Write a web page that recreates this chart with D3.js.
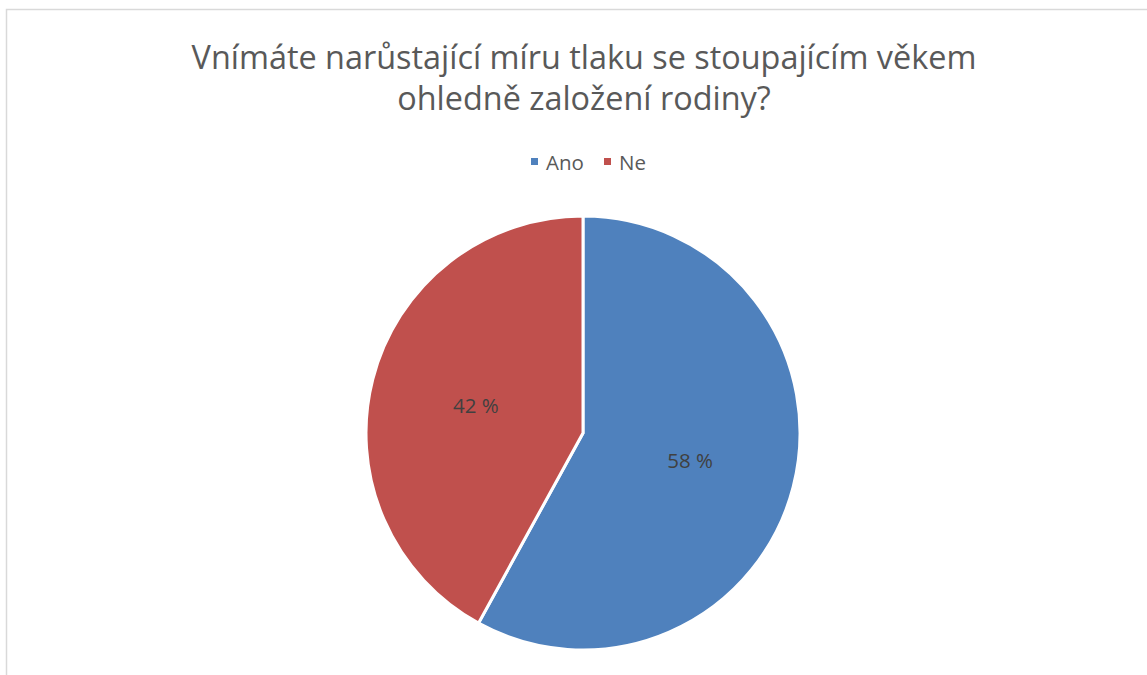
<!DOCTYPE html>
<html>
<head>
<meta charset="utf-8">
<script src="https://cdn.jsdelivr.net/npm/d3@7"></script>
<style>
  body { margin: 0; background: #fff; }
  text { font-family: "Open Sans", "Noto Sans", sans-serif; }
</style>
</head>
<body>
<div id="chart"></div>
<script>
// data
var categories = ["Ano", "Ne"];
var values = [58, 42];
var colors = ["#4F81BD", "#C0504D"];
var titleLines = ["Vnímáte narůstající míru tlaku se stoupajícím věkem", "ohledně založení rodiny?"];

var svgWidth = 1147;
var svgHeight = 675;

var svg = d3.select("#chart")
    .append("svg")
    .attr("width", svgWidth)
    .attr("height", svgHeight);

// chart area border (runs off right/bottom)
svg.append("rect")
    .attr("x", 6.5).attr("y", 9.5)
    .attr("width", 1200).attr("height", 700)
    .attr("fill", "none")
    .attr("stroke", "#d9d9d9")
    .attr("stroke-width", 1.5);

// title
svg.append("g").selectAll("text")
    .data(titleLines)
    .enter()
    .append("text")
    .attr("x", 584)
    .attr("y", (d, i) => 69 + i * 41)
    .attr("text-anchor", "middle")
    .attr("font-size", 32.4)
    .attr("fill", "#595959")
    .text(d => d);

// legend
var legend = svg.append("g").attr("transform", "translate(0,170)");
var legendX = [531, 604];
var lg = legend.selectAll("g")
    .data(categories)
    .enter()
    .append("g")
    .attr("transform", (d, i) => `translate(${legendX[i]},0)`);
lg.append("rect")
    .attr("x", 0).attr("y", -12)
    .attr("width", 7).attr("height", 7)
    .attr("fill", (d, i) => colors[i]);
lg.append("text")
    .attr("x", 15)
    .attr("y", 0)
    .attr("font-size", 20.5)
    .attr("fill", "#595959")
    .text(d => d);

// pie
var cx = 583, cy = 433, radius = 217;
var pie = d3.pie().sort(null).value(d => d);
var arc = d3.arc().innerRadius(0).outerRadius(radius);
var labelArc = d3.arc().innerRadius(radius * 0.51).outerRadius(radius * 0.51);

var pieGroup = svg.append("g")
    .attr("transform", `translate(${cx}, ${cy})`);

var arcs = pie(values);

pieGroup.selectAll("path")
    .data(arcs)
    .enter()
    .append("path")
    .attr("d", arc)
    .attr("fill", (d, i) => colors[i])
    .attr("stroke", "#fff")
    .attr("stroke-width", 3)
    .attr("stroke-linejoin", "miter");

pieGroup.selectAll("text.lbl")
    .data(arcs)
    .enter()
    .append("text")
    .attr("class", "lbl")
    .attr("transform", d => `translate(${labelArc.centroid(d)})`)
    .attr("text-anchor", "middle")
    .attr("dy", "0.35em")
    .attr("font-size", 20.5)
    .attr("fill", "#404040")
    .text(d => d.data + " %");
</script>
</body>
</html>
